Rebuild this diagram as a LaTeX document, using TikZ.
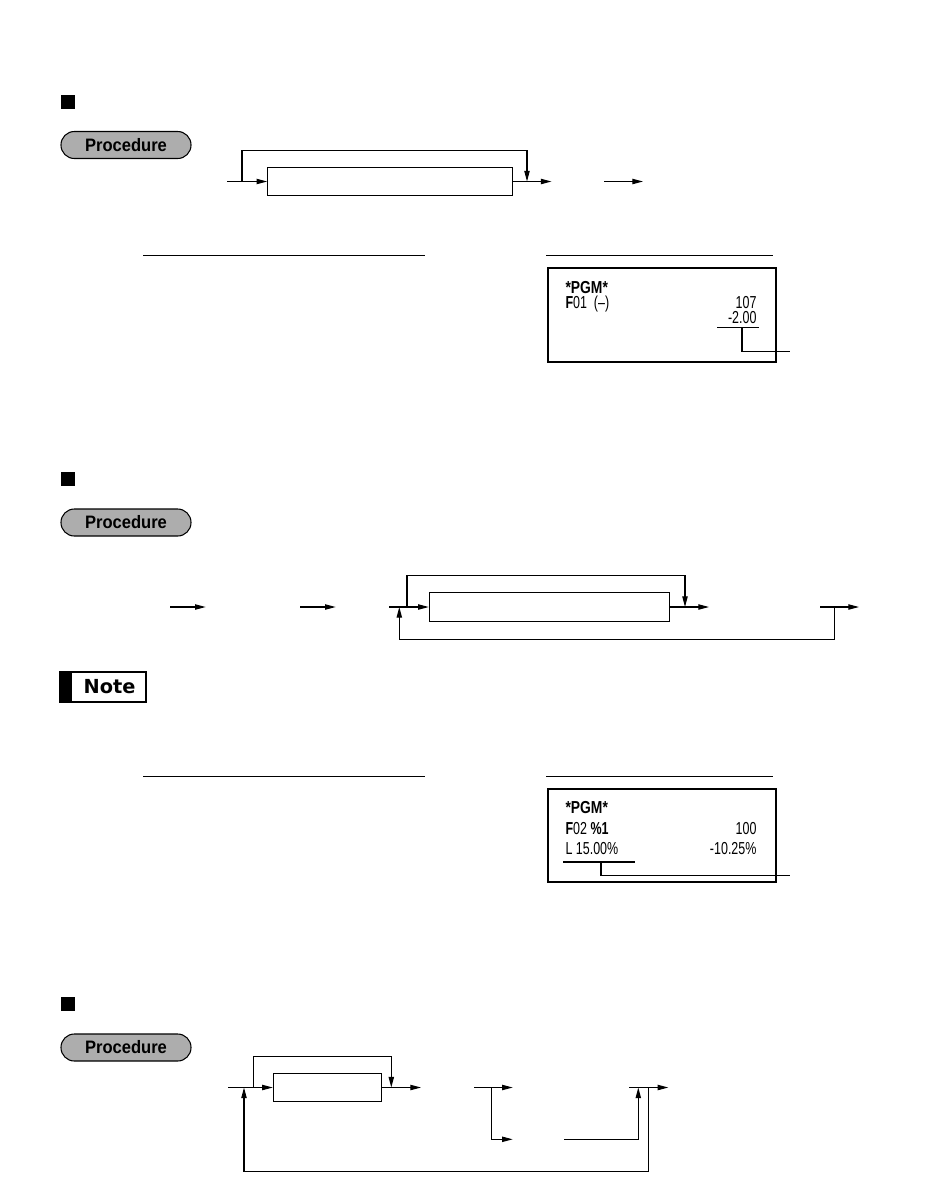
\documentclass[tikz,border=0pt]{standalone}
\usepackage{fontspec}
\usepackage{graphicx}
\setmainfont{Liberation Sans}
\newfontfamily\notefont{DejaVu Sans}
\usetikzlibrary{arrows.meta}
\definecolor{pillgray}{gray}{0.68}
\newcommand\rsq[1]{\scalebox{0.72}[1]{#1}}
\newcommand\rsb[1]{\scalebox{0.8}[1]{#1}}
\newcommand\psq[1]{\scalebox{0.92}[1]{#1}}
\begin{document}
\begin{tikzpicture}[x=0.75pt,y=-0.75pt,line width=0.8pt,
  arr/.style={-{Triangle[length=8pt,width=4pt]}},
  thin/.style={line width=0.8pt},
  sqmark/.style={fill=black,draw=none,minimum width=10.5pt,minimum height=10.5pt,inner sep=0pt},
  pill/.style={draw,fill=pillgray,rounded corners=10pt,minimum width=97.5pt,minimum height=20.25pt,inner sep=0pt,
    font=\fontsize{13.5}{13.5}\selectfont\bfseries},
  flowbox/.style={draw,minimum height=21pt,inner sep=0pt},
  rcpt/.style={draw,minimum width=171pt,inner sep=0pt},
  rtxt/.style={inner sep=0pt,text depth=0pt,text height=9pt,font=\fontsize{13}{13}\selectfont},
  rbold/.style={inner sep=0pt,text depth=0pt,text height=9pt,font=\fontsize{13}{13}\selectfont\bfseries},
]
\useasboundingbox (0,0) rectangle (949,1204);

% ---------------- Section 1 ----------------
\node[sqmark] (sq1) at (68,102) {};
\node[pill] (p1) at (126,145) {\psq{Procedure}};

\node[flowbox,minimum width=183.75pt] (A1) at (390.2,181.5) {};
\coordinate (s1in) at (227,181.5);
\coordinate (s1a) at (242,181.5);
\coordinate (s1b) at (527,150.5);
\coordinate (s1c) at (527,181.5);
\coordinate (s1d) at (551.5,181.5);
\coordinate (s1e) at (604,181.5);
\coordinate (s1f) at (643,181.5);
\draw[arr] (s1in) -- (A1.west);
\draw[arr] (s1a) |- (s1b) -- (s1c);
\draw[arr] (A1.east) -- (s1d);
\draw[arr] (s1e) -- (s1f);

\coordinate (h1a) at (143,255.5);
\coordinate (h1b) at (425,255.5);
\coordinate (h1c) at (546,255.5);
\coordinate (h1d) at (773,255.5);
\draw[thin] (h1a) -- (h1b);
\draw[thin] (h1c) -- (h1d);

\node[rcpt,minimum height=70.5pt] (R1) at (662,315) {};
\node[rbold,anchor=base west] (r1t1) at (565,293) {\rsb{*PGM*}};
\node[rtxt,anchor=base west] (r1t2) at (565,308.5) {\rsq{{\bfseries F}01\ \ (--)}};
\node[rtxt,anchor=base east] (r1t3) at (757,308.5) {\rsq{107}};
\node[rtxt,anchor=base east] (r1t4) at (757,323.5) {\rsq{-2.00}};
\coordinate (u1a) at (717,327.5);
\coordinate (u1b) at (759,327.5);
\coordinate (u1c) at (742,327.5);
\coordinate (u1d) at (790,351.5);
\draw[thin] (u1a) -- (u1b);
\draw[thin] (u1c) |- (u1d);

% ---------------- Section 2 ----------------
\node[sqmark] (sq2) at (68,479) {};
\node[pill] (p2) at (126,522.5) {\psq{Procedure}};

\coordinate (s2a1) at (170,607);
\coordinate (s2a2) at (205.7,607);
\coordinate (s2b1) at (300,607);
\coordinate (s2b2) at (335.7,607);
\draw[arr] (s2a1) -- (s2a2);
\draw[arr] (s2b1) -- (s2b2);

\node[flowbox,minimum width=180pt,minimum height=21.75pt] (A2) at (549.3,607) {};
\coordinate (s2in) at (389,607);
\coordinate (s2l) at (407,607);
\coordinate (s2lt) at (685,575.7);
\coordinate (s2lr) at (685,607);
\coordinate (s2out) at (709,607);
\coordinate (s2c1) at (820,607);
\coordinate (s2c2) at (859,607);
\coordinate (s2r) at (834.3,607);
\coordinate (s2bot) at (399.3,639.3);
\coordinate (s2up) at (399.3,607);
\draw[arr] (s2in) -- (A2.west);
\draw[arr] (s2l) |- (s2lt) -- (s2lr);
\draw[arr] (A2.east) -- (s2out);
\draw[arr] (s2c1) -- (s2c2);
\draw[arr] (s2r) |- (s2bot) -- (s2up);

\node[draw,minimum width=64.5pt,minimum height=22.5pt,inner sep=0pt] (note) at (103,687) {};
\fill (note.north west) rectangle ([xshift=9.75pt]note.south west);
\node[inner sep=0pt,font=\notefont\fontsize{14.5}{14.5}\selectfont\bfseries] (notet) at (109.5,687) {Note};

\coordinate (h2a) at (143,776.5);
\coordinate (h2b) at (425,776.5);
\coordinate (h2c) at (546,776.5);
\coordinate (h2d) at (773,776.5);
\draw[thin] (h2a) -- (h2b);
\draw[thin] (h2c) -- (h2d);

\node[rcpt,minimum height=69.75pt] (R2) at (662,835.5) {};
\node[rbold,anchor=base west] (r2t1) at (565,813.5) {\rsb{*PGM*}};
\node[rtxt,anchor=base west] (r2t2) at (565,834) {\rsq{{\bfseries F}02 {\bfseries \%1}}};
\node[rtxt,anchor=base east] (r2t3) at (757,834) {\rsq{100}};
\node[rtxt,anchor=base west] (r2t4) at (565,854) {\rsq{L 15.00\%}};
\node[rtxt,anchor=base east] (r2t5) at (757,854) {\rsq{-10.25\%}};
\coordinate (u2a) at (563,862);
\coordinate (u2b) at (635,862);
\coordinate (u2c) at (601,862);
\coordinate (u2d) at (790,875.5);
\draw[thin] (u2a) -- (u2b);
\draw[thin] (u2c) |- (u2d);

% ---------------- Section 3 ----------------
\node[sqmark] (sq3) at (68,1004) {};
\node[pill] (p3) at (126,1047.5) {\psq{Procedure}};

\node[flowbox,minimum width=81.3pt] (A3) at (327.5,1087.5) {};
\coordinate (s3in) at (228,1087.5);
\coordinate (s3l) at (253.3,1087.5);
\coordinate (s3lt) at (391.3,1056.7);
\coordinate (s3lr) at (391.3,1087.5);
\coordinate (s3out) at (421,1087.5);
\coordinate (s3b1) at (474,1087.5);
\coordinate (s3b2) at (512.7,1087.5);
\coordinate (s3sp) at (491.7,1087.5);
\coordinate (s3low) at (512.7,1139.3);
\coordinate (s3m1) at (564,1139.3);
\coordinate (s3m2) at (638.3,1087.5);
\coordinate (s3e1) at (629,1087.5);
\coordinate (s3e2) at (668.3,1087.5);
\coordinate (s3d) at (648.3,1087.5);
\coordinate (s3bot) at (244,1171.7);
\coordinate (s3up) at (244,1087.5);
\draw[arr] (s3in) -- (A3.west);
\draw[arr] (s3l) |- (s3lt) -- (s3lr);
\draw[arr] (A3.east) -- (s3out);
\draw[arr] (s3b1) -- (s3b2);
\draw[arr] (s3sp) |- (s3low);
\draw[arr] (s3m1) -| (s3m2);
\draw[arr] (s3e1) -- (s3e2);
\draw[arr] (s3d) |- (s3bot) -- (s3up);
\end{tikzpicture}
\end{document}
